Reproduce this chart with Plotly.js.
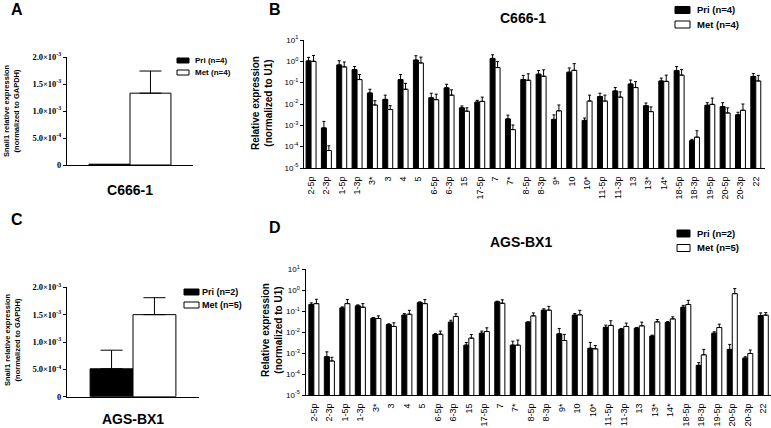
<!DOCTYPE html>
<html>
<head>
<meta charset="utf-8">
<script src="https://cdn.plot.ly/plotly-3.0.1.min.js"></script>
<style>html,body{margin:0;padding:0;background:#fff;}#chart{width:771px;height:428px;}</style>
</head>
<body>
<div id="chart"></div>
<script>
// ---------- data ----------
const mirCats = ['2-5p','2-3p','1-5p','1-3p','3*','3','4','5','6-5p','6-3p','15','17-5p','7','7*','8-5p','8-3p','9*','10','10*','11-5p','11-3p','13','13*','14*','18-5p','18-3p','19-5p','20-5p','20-3p','22'];

// Panel B (C666-1), relative expression normalized to U1
const bPri    = [1.05,7.6e-4,0.68,0.41,0.033,0.0165,0.14,1.15,0.0196,0.057,0.0066,0.0123,1.37,0.0020,0.14,0.25,0.0019,0.31,0.0017,0.0224,0.041,0.087,0.0083,0.12,0.37,1.9e-4,0.0087,0.0075,0.0031,0.196];
const bPriTop = [1.53,1.53e-3,1.07,0.57,0.049,0.026,0.24,1.83,0.032,0.084,0.0081,0.0148,2.03,0.0030,0.22,0.37,0.0031,0.49,0.0022,0.032,0.059,0.133,0.0111,0.164,0.57,2.2e-4,0.0115,0.0115,0.0041,0.27];
const bMet    = [1.0,6.6e-5,0.55,0.14,0.009,0.0055,0.049,0.84,0.016,0.026,0.0046,0.0133,0.51,6.3e-4,0.13,0.2,0.0048,0.38,0.0138,0.0138,0.021,0.059,0.0044,0.115,0.225,2.8e-4,0.0096,0.0038,0.0051,0.12];
const bMetTop = [1.89,1.1e-4,0.93,0.24,0.0143,0.0084,0.093,1.58,0.029,0.046,0.0066,0.021,0.97,1.04e-3,0.26,0.4,0.0090,0.78,0.026,0.026,0.037,0.111,0.0073,0.226,0.41,5.6e-4,0.019,0.0066,0.010,0.22];

// Panel D (AGS-BX1)
const dPri    = [0.21,6.7e-4,0.144,0.18,0.046,0.023,0.065,0.26,0.0077,0.030,0.0024,0.0089,0.28,0.0024,0.030,0.112,0.0083,0.065,0.0017,0.017,0.0138,0.0155,0.0065,0.029,0.155,2.6e-4,0.0089,0.0015,5.8e-4,0.062];
const dPriTop = [0.25,1.15e-3,0.16,0.2,0.05,0.025,0.077,0.28,0.0087,0.037,0.0032,0.0112,0.3,0.0037,0.031,0.13,0.015,0.077,0.0032,0.0216,0.015,0.0167,0.0072,0.032,0.19,3.5e-4,0.0104,0.0026,6.7e-4,0.083];
const dMet    = [0.23,4.2e-4,0.23,0.155,0.045,0.0186,0.072,0.23,0.008,0.056,0.0052,0.0107,0.24,0.0024,0.060,0.112,0.004,0.067,0.0016,0.021,0.0186,0.020,0.031,0.043,0.21,8.3e-4,0.0166,0.69,9.6e-4,0.065];
const dMetTop = [0.37,6.3e-4,0.36,0.23,0.06,0.028,0.11,0.36,0.0112,0.075,0.0077,0.0161,0.35,0.0042,0.083,0.17,0.0078,0.11,0.0023,0.035,0.027,0.030,0.040,0.054,0.33,1.5e-3,0.024,1.2,1.4e-3,0.086];

// Panels A and C, Snail1 relative expression (normalized to GAPDH)
const aCat = ['C666-1'];
const aPri = [1.5e-5], aPriTop = [1.5e-5];
const aMet = [1.33e-3], aMetTop = [1.74e-3];
const cCat = ['AGS-BX1'];
const cPri = [5.1e-4], cPriTop = [8.5e-4];
const cMet = [1.5e-3], cMetTop = [1.81e-3];

// legend labels
const legA = ['Pri (n=4)', 'Met (n=4)'];
const legB = ['Pri (n=4)', 'Met (n=4)'];
const legC = ['Pri (n=2)', 'Met (n=5)'];
const legD = ['Pri (n=2)', 'Met (n=5)'];

// tick labels
const logTickVals = [1e-5,1e-4,1e-3,1e-2,1e-1,1,10];
const logTickText = ['10<sup>-5</sup>','10<sup>-4</sup>','10<sup>-3</sup>','10<sup>-2</sup>','10<sup>-1</sup>','10<sup>0</sup>','10<sup>1</sup>'];
const linTickVals = [0,5e-4,1e-3,1.5e-3,2e-3];
const linTickText = ['0','5.0×10<sup>-4</sup>','1.0×10<sup>-3</sup>','1.5×10<sup>-3</sup>','2.0×10<sup>-3</sup>'];

// ---------- helpers ----------
const up = (v, t) => t.map((x, i) => Math.max(x - v[i], 0));
const zeros = n => new Array(n).fill(0);
const SANS = 'Liberation Sans, Arial, sans-serif';
const SERIF = 'Liberation Serif, Times New Roman, serif';

function barTrace(x, y, top, fill, name, xa, ya, capw) {
  return {
    type: 'bar', x: x, y: y, name: name, xaxis: xa, yaxis: ya, showlegend: false,
    marker: {color: fill, line: {color: '#000', width: 1}},
    error_y: {type: 'data', symmetric: false, array: up(y, top), arrayminus: zeros(y.length),
              color: '#000', thickness: 1, width: capw},
    hoverinfo: 'skip'
  };
}

const data = [
  barTrace(aCat, aPri, aPriTop, '#000', legA[0], 'x', 'y', 0),
  barTrace(aCat, aMet, aMetTop, '#fff', legA[1], 'x', 'y', 11),
  barTrace(mirCats, bPri, bPriTop, '#000', legB[0], 'x2', 'y2', 1.5),
  barTrace(mirCats, bMet, bMetTop, '#fff', legB[1], 'x2', 'y2', 1.5),
  barTrace(cCat, cPri, cPriTop, '#000', legC[0], 'x3', 'y3', 11),
  barTrace(cCat, cMet, cMetTop, '#fff', legC[1], 'x3', 'y3', 11),
  barTrace(mirCats, dPri, dPriTop, '#000', legD[0], 'x4', 'y4', 1.5),
  barTrace(mirCats, dMet, dMetTop, '#fff', legD[1], 'x4', 'y4', 1.5)
];

const W = 771, H = 428;
const px = v => v / W, py = v => 1 - v / H;

function linX(domain, anchor, tl) {
  return {domain: domain, anchor: anchor, type: 'category', range: [-0.5, 0.5],
    showline: true, linecolor: '#000', linewidth: 1, showgrid: false, zeroline: false,
    ticks: 'outside', ticklen: tl, tickcolor: 'rgba(0,0,0,0)',
    tickfont: {family: SANS, size: 14, color: '#000', weight: 'bold'}, fixedrange: true};
}
function linY(domain, anchor) {
  return {domain: domain, anchor: anchor, range: [0, 2e-3], tickvals: linTickVals, ticktext: linTickText,
    showline: true, linecolor: '#000', linewidth: 1, showgrid: false, zeroline: false,
    ticks: 'outside', ticklen: 3, tickcolor: '#000',
    tickfont: {family: SERIF, size: 8.5, color: '#000', weight: 'bold'}, fixedrange: true};
}
function logX(domain, anchor, range) {
  return {domain: domain, anchor: anchor, type: 'category', range: range,
    showline: true, linecolor: '#000', linewidth: 1, showgrid: false, zeroline: false,
    ticks: 'outside', ticklen: 4, tickcolor: 'rgba(0,0,0,0)', tickangle: -90,
    tickfont: {family: SANS, size: 9, color: '#000'}, fixedrange: true};
}
function logY(domain, anchor) {
  return {domain: domain, anchor: anchor, type: 'log', range: [-5, 1],
    tickvals: logTickVals, ticktext: logTickText,
    showline: true, linecolor: '#000', linewidth: 1, showgrid: false, zeroline: false,
    ticks: 'outside', ticklen: 3, tickcolor: '#000',
    tickfont: {family: SANS, size: 8, color: '#000'}, fixedrange: true};
}

const ann = (x, y, text, size, opts) => Object.assign({xref: 'paper', yref: 'paper', x: px(x), y: py(y),
  text: text, showarrow: false, xanchor: 'center', yanchor: 'middle',
  font: {family: SANS, size: size, color: '#000', weight: 'bold'}}, opts || {});

// manual legends: swatch box [x0,x1] and row centres
const shapes = [], legAnns = [];
function addLegend(labels, x0, x1, rows, h, tx, fs) {
  labels.forEach((lab, i) => {
    const yc = rows[i];
    shapes.push({type: 'rect', xref: 'paper', yref: 'paper',
      x0: px(x0), x1: px(x1), y0: py(yc + h / 2), y1: py(yc - h / 2),
      fillcolor: i === 0 ? '#000' : '#fff', line: {color: '#000', width: 1}});
    legAnns.push(ann(tx, yc, lab, fs, {xanchor: 'left'}));
  });
}
addLegend(legB, 675, 690, [10, 24.5], 7, 695, 9.5);
addLegend(legD, 677, 690, [233.5, 248], 7, 695, 9.5);
addLegend(legA, 177, 189, [60.5, 72.5], 5, 193, 8);
addLegend(legC, 184, 199, [292, 305], 6, 200, 9);

const layout = {
  width: W, height: H, margin: {l: 0, r: 0, t: 0, b: 0},
  paper_bgcolor: '#fff', plot_bgcolor: '#fff',
  barmode: 'group', bargap: 0.35, bargroupgap: 0,
  showlegend: false,
  xaxis:  linX([px(67), px(193)], 'y', 12),
  yaxis:  linY([py(165), py(57)], 'x'),
  xaxis2: logX([px(304), px(765)], 'y2', [-0.46, 29.6]),
  yaxis2: logY([py(168), py(40)], 'x2'),
  xaxis3: linX([px(67), px(199)], 'y3', 9),
  yaxis3: linY([py(396.7), py(287.3)], 'x3'),
  xaxis4: logX([px(305.5), px(771)], 'y4', [-0.54, 29.5]),
  yaxis4: logY([py(395), py(269.3)], 'x4'),
  shapes: shapes,
  annotations: [
    ann(17, 9, 'A', 16), ann(275, 9, 'B', 16), ann(17, 219, 'C', 16), ann(275, 228, 'D', 16),
    ann(523, 18, 'C666-1', 14), ann(521, 242, 'AGS-BX1', 14),
    ann(11, 111, 'Snail1 relative expression<br>(normalized to GAPDH)', 7.5, {textangle: -90}),
    ann(12, 340, 'Snail1 relative expression<br>(normalized to GAPDH)', 7.5, {textangle: -90}),
    ann(262, 103, 'Relative expression<br>(normalized to U1)', 10, {textangle: -90}),
    ann(272, 330, 'Relative expression<br>(normalized to U1)', 10, {textangle: -90})
  ].concat(legAnns)
};

Plotly.newPlot('chart', data, layout, {staticPlot: true, displayModeBar: false});
</script>
</body>
</html>
